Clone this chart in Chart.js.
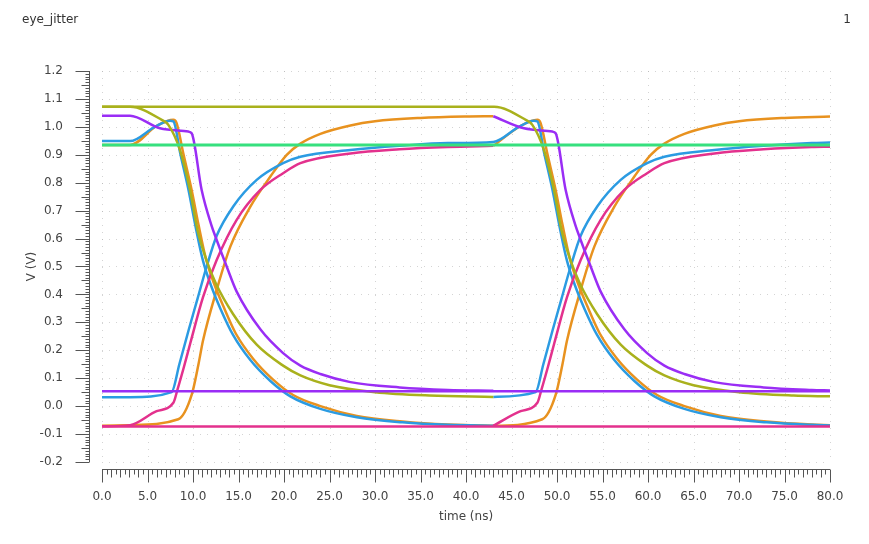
<!DOCTYPE html>
<html>
<head>
<meta charset="utf-8">
<script src="https://cdn.jsdelivr.net/npm/chart.js@4"></script>
<style>
  html, body { margin: 0; padding: 0; background: #fff; }
  canvas { display: block; }
</style>
</head>
<body>
<canvas id="eye" width="869" height="544"></canvas>
<script>
// tick values
const xTicks = [0, 5, 10, 15, 20, 25, 30, 35, 40, 45, 50, 55, 60, 65, 70, 75, 80];
const yTicks = [-0.2, -0.1, 0.0, 0.1, 0.2, 0.3, 0.4, 0.5, 0.6, 0.7, 0.8, 0.9, 1.0, 1.1, 1.2];

// flat lines
const tGreenFlat = [0, 80];
const vGreenFlat = [0.935, 0.935];
const tMagentaFlat = [0, 80];
const vMagentaFlat = [-0.073, -0.073];
const tPurpleFlat = [0, 80];
const vPurpleFlat = [0.053, 0.053];

// olive: flat high until 43 ns, then falls in the second UI
const tOliveA = [0, 43.08, 46.56, 47.29, 48.57, 49.67, 50.5, 51.4, 52.5, 54.4, 57, 59.9, 61.8, 65, 70, 76, 80];
const vOliveA = [1.072, 1.072, 1.025, 1.007, 0.917, 0.774, 0.63, 0.53, 0.44, 0.33, 0.22, 0.145, 0.11, 0.075, 0.05, 0.038, 0.035];

// olive falling, first UI
const tOliveB = [0, 3.08, 6.56, 7.29, 8.57, 9.67, 10.5, 11.4, 12.5, 14.4, 17, 19.9, 21.8, 25, 30, 36, 43];
const vOliveB = [1.072, 1.072, 1.025, 1.007, 0.917, 0.774, 0.63, 0.53, 0.44, 0.33, 0.22, 0.145, 0.11, 0.075, 0.05, 0.038, 0.033];

// blue falling, first UI
const tBlueA = [0, 3.08, 5.8, 7.47, 7.85, 8.6, 9.5, 10.3, 11.1, 12.0, 13.0, 14.4, 16.3, 18.5, 20.7, 24, 28, 33, 38, 43];
const vBlueA = [0.949, 0.949, 1.0, 1.022, 1.019, 0.905, 0.775, 0.64, 0.52, 0.43, 0.35, 0.255, 0.165, 0.09, 0.035, -0.01, -0.04, -0.058, -0.067, -0.07];

// blue rising first UI, falling second UI
const tBlueB = [0, 3.08, 7.65, 8.5, 9.5, 10.5, 11.5, 12.6, 14.4, 17, 19.9, 21.8, 27.3, 32.7, 38, 43,
                45.8, 47.47, 47.85, 48.6, 49.5, 50.3, 51.1, 52.0, 53.0, 54.4, 56.3, 58.5, 60.7, 64, 68, 73, 78, 80];
const vBlueB = [0.032, 0.032, 0.05, 0.15, 0.27, 0.385, 0.5, 0.61, 0.714, 0.81, 0.87, 0.893, 0.917, 0.932, 0.942, 0.946,
                1.0, 1.022, 1.019, 0.905, 0.775, 0.64, 0.52, 0.43, 0.35, 0.255, 0.165, 0.09, 0.035, -0.01, -0.04, -0.058, -0.067, -0.069];

// blue rising, second UI
const tBlueC = [43, 47.65, 48.5, 49.5, 50.5, 51.5, 52.6, 54.4, 57, 59.9, 61.8, 67.3, 72.7, 78, 80];
const vBlueC = [0.033, 0.05, 0.15, 0.27, 0.385, 0.5, 0.61, 0.714, 0.81, 0.87, 0.893, 0.917, 0.932, 0.942, 0.944];

// orange falling first UI, rising second UI
const tOrangeA = [0, 3.08, 6.0, 7.84, 8.2, 8.93, 9.85, 10.6, 11.4, 12.3, 13.3, 14.7, 16.6, 18.8, 21, 24, 28, 33, 38, 43,
                  48.38, 49.85, 50.6, 51.1, 52.6, 54.1, 56.3, 58.5, 60.3, 61.8, 64, 67.3, 70, 75, 80];
const vOrangeA = [0.935, 0.935, 1.003, 1.025, 1.013, 0.905, 0.774, 0.65, 0.53, 0.44, 0.36, 0.26, 0.17, 0.095, 0.04, 0.0, -0.035, -0.055, -0.066, -0.07,
                  -0.047, 0.04, 0.15, 0.235, 0.416, 0.571, 0.714, 0.822, 0.9, 0.94, 0.975, 1.005, 1.02, 1.032, 1.037];

// orange rising, first UI
const tOrangeB = [0, 3.08, 8.38, 9.85, 10.6, 11.1, 12.6, 14.1, 16.3, 18.5, 20.3, 21.8, 24, 27.3, 30, 35, 40, 43];
const vOrangeB = [-0.07, -0.068, -0.047, 0.04, 0.15, 0.235, 0.416, 0.571, 0.714, 0.822, 0.9, 0.94, 0.975, 1.005, 1.02, 1.032, 1.037, 1.038];

// orange falling, second UI
const tOrangeC = [43, 46.0, 47.84, 48.2, 48.93, 49.85, 50.6, 51.4, 52.3, 53.3, 54.7, 56.6, 58.8, 61, 64, 68, 73, 78, 80];
const vOrangeC = [0.932, 1.003, 1.025, 1.013, 0.905, 0.774, 0.65, 0.53, 0.44, 0.36, 0.26, 0.17, 0.095, 0.04, 0.0, -0.035, -0.055, -0.066, -0.068];

// magenta rising, first and second UI
const tMagentaA = [0, 3.08, 6.0, 7.84, 8.3, 9.0, 9.7, 11.1, 12.6, 14.8, 17.4, 19.9, 21.8, 27.3, 32.7, 38, 43];
const vMagentaA = [-0.072, -0.068, -0.018, 0.012, 0.06, 0.14, 0.225, 0.39, 0.523, 0.667, 0.774, 0.834, 0.87, 0.905, 0.92, 0.928, 0.932];
const tMagentaB = [43, 46.0, 47.84, 48.3, 49.0, 49.7, 51.1, 52.6, 54.8, 57.4, 59.9, 61.8, 67.3, 72.7, 78, 80];
const vMagentaB = [-0.07, -0.018, 0.012, 0.06, 0.14, 0.225, 0.39, 0.523, 0.667, 0.774, 0.834, 0.87, 0.905, 0.92, 0.928, 0.929];

// purple falling, first and second UI
const tPurpleA = [0, 3.08, 6.37, 9.49, 9.85, 10.95, 12.0, 12.6, 13.7, 14.8, 17.4, 19.9, 21.8, 24, 27.3, 32.7, 38, 43];
const vPurpleA = [1.04, 1.04, 0.995, 0.983, 0.977, 0.774, 0.65, 0.595, 0.5, 0.41, 0.275, 0.19, 0.145, 0.115, 0.086, 0.067, 0.058, 0.055];
const tPurpleB = [43, 46.37, 49.49, 49.85, 50.95, 52.0, 52.6, 53.7, 54.8, 57.4, 59.9, 61.8, 64, 67.3, 72.7, 78, 80];
const vPurpleB = [1.038, 0.995, 0.983, 0.977, 0.774, 0.65, 0.595, 0.5, 0.41, 0.275, 0.19, 0.145, 0.115, 0.086, 0.067, 0.058, 0.056];

const BLUE = '#2b9be2', ORANGE = '#e8921f', OLIVE = '#a9b11c', PURPLE = '#9a2df5', MAGENTA = '#e3318d', GREEN = '#36e07e';

function pts(t, v) { return t.map((x, i) => ({ x: x, y: v[i] })); }

function trace(t, v, color, width) {
  return {
    data: pts(t, v),
    borderColor: color,
    borderWidth: width || 2.5,
    pointRadius: 0,
    fill: false,
    cubicInterpolationMode: 'monotone',
    clip: false
  };
}

const rulers = {
  id: 'rulers',
  beforeDatasetsDraw(chart) {
    const ctx = chart.ctx, xs = chart.scales.x, ys = chart.scales.y;
    ctx.save();
    ctx.strokeStyle = 'rgba(170,170,170,0.5)';
    ctx.lineWidth = 1;
    ctx.setLineDash([1, 6]);
    xTicks.forEach(v => {
      const px = Math.round(xs.getPixelForValue(v)) + 0.5;
      ctx.beginPath();
      ctx.moveTo(px, ys.getPixelForValue(1.2));
      ctx.lineTo(px, ys.getPixelForValue(-0.2));
      ctx.stroke();
    });
    yTicks.forEach(v => {
      const py = Math.round(ys.getPixelForValue(v)) + 0.5;
      ctx.beginPath();
      ctx.moveTo(xs.getPixelForValue(0), py);
      ctx.lineTo(xs.getPixelForValue(80), py);
      ctx.stroke();
    });
    ctx.restore();
  },
  afterDraw(chart) {
    const ctx = chart.ctx, xs = chart.scales.x, ys = chart.scales.y, a = chart.chartArea;
    ctx.save();
    ctx.strokeStyle = '#555';
    ctx.lineWidth = 1;
    // y ruler
    const ax = Math.round(a.left) + 0.5;
    ctx.beginPath();
    ctx.moveTo(ax, ys.getPixelForValue(1.2));
    ctx.lineTo(ax, ys.getPixelForValue(-0.2));
    for (let i = -20; i <= 120; i++) {
      const py = Math.round(ys.getPixelForValue(i / 100)) + 0.5;
      const len = i % 10 === 0 ? 14 : (i % 5 === 0 ? 8 : 4);
      ctx.moveTo(ax - len, py);
      ctx.lineTo(ax, py);
    }
    ctx.stroke();
    // x ruler
    const ay = Math.round(a.bottom) + 0.5;
    ctx.beginPath();
    ctx.moveTo(xs.getPixelForValue(0), ay);
    ctx.lineTo(xs.getPixelForValue(80), ay);
    for (let i = 0; i <= 160; i++) {
      const px = Math.round(xs.getPixelForValue(i / 2)) + 0.5;
      const len = i % 10 === 0 ? 13 : (i % 2 === 0 ? 8 : 5);
      ctx.moveTo(px, ay);
      ctx.lineTo(px, ay + len);
    }
    ctx.stroke();

    ctx.fillStyle = '#444';
    ctx.font = '12px "DejaVu Sans"';
    ctx.textBaseline = 'middle';
    ctx.textAlign = 'right';
    yTicks.forEach(v => ctx.fillText(v.toFixed(1), 63, ys.getPixelForValue(v)));
    ctx.textAlign = 'center';
    xTicks.forEach(v => ctx.fillText(v.toFixed(1), xs.getPixelForValue(v), 497));
    ctx.fillText('time (ns)', (xs.getPixelForValue(0) + xs.getPixelForValue(80)) / 2, 517);
    ctx.save();
    ctx.translate(32, (ys.getPixelForValue(1.2) + ys.getPixelForValue(-0.2)) / 2);
    ctx.rotate(-Math.PI / 2);
    ctx.fillText('V (V)', 0, 0);
    ctx.restore();
    ctx.fillStyle = '#333';
    ctx.textAlign = 'left';
    ctx.fillText('eye_jitter', 22, 20);
    ctx.textAlign = 'right';
    ctx.fillText('1', 851, 20);
    ctx.restore();
  }
};

new Chart(document.getElementById('eye'), {
  type: 'line',
  data: {
    datasets: [
      trace(tGreenFlat, vGreenFlat, GREEN, 3),
      trace(tMagentaFlat, vMagentaFlat, MAGENTA),
      trace(tPurpleFlat, vPurpleFlat, PURPLE),
      trace(tOliveA, vOliveA, OLIVE),
      trace(tOliveB, vOliveB, OLIVE),
      trace(tPurpleA, vPurpleA, PURPLE),
      trace(tPurpleB, vPurpleB, PURPLE),
      trace(tMagentaA, vMagentaA, MAGENTA),
      trace(tMagentaB, vMagentaB, MAGENTA),
      trace(tBlueA, vBlueA, BLUE),
      trace(tBlueB, vBlueB, BLUE),
      trace(tBlueC, vBlueC, BLUE),
      trace(tOrangeA, vOrangeA, ORANGE),
      trace(tOrangeB, vOrangeB, ORANGE),
      trace(tOrangeC, vOrangeC, ORANGE)
    ]
  },
  options: {
    responsive: false,
    animation: false,
    devicePixelRatio: 1,
    layout: { padding: { left: 89, right: 39, top: 71, bottom: 75 } },
    plugins: { legend: { display: false }, tooltip: { enabled: false } },
    scales: {
      x: { type: 'linear', min: -1.43, max: 80, display: false },
      y: { type: 'linear', min: -0.2251, max: 1.2, display: false }
    }
  },
  plugins: [rulers]
});
</script>
</body>
</html>
